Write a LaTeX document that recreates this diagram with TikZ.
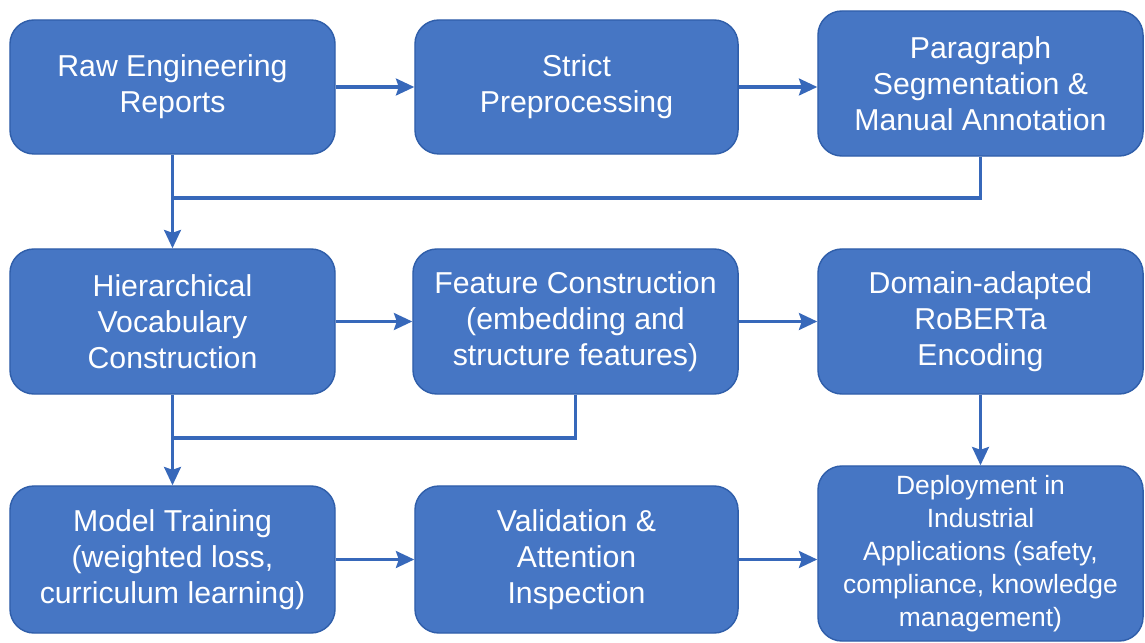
\documentclass[tikz,border=0pt]{standalone}
\usepackage{fontspec}
\setmainfont{Liberation Sans}
\usetikzlibrary{arrows.meta}

\definecolor{boxblue}{RGB}{70,118,196}
\definecolor{edgeblue}{RGB}{47,94,170}
\definecolor{lineblue}{RGB}{55,104,186}

\tikzset{
  stage/.style={draw=edgeblue, line width=1pt, fill=boxblue, rounded corners=0.6cm,
    text=white, align=center, inner sep=0pt, minimum width=8.125cm,
    font=\fontsize{21.5}{25.5}\selectfont},
  flow/.style={draw=lineblue, line width=2.2pt, ->},
  link/.style={draw=lineblue, line width=2.2pt},
}

\begin{document}
\begin{tikzpicture}[x=0.025cm, y=-0.025cm, >={Stealth[length=13pt,width=12pt,inset=2pt]}]
    \fill[white] (0,0) rectangle (1145,643);
    \useasboundingbox (0,0) rectangle (1145,643);

    % first row
    \node[stage, minimum height=3.35cm] (raw) at (172.5,87) {Raw Engineering\\Reports};
    \node[stage, minimum height=3.35cm, minimum width=8.075cm] (prep) at (576.5,87) {Strict\\Preprocessing};
    \node[stage, minimum height=3.625cm] (para) at (980.5,83.5) {Paragraph\\Segmentation \&\\Manual Annotation};

    % second row
    \node[stage, minimum height=3.625cm] (vocab) at (172.5,321.5) {Hierarchical\\Vocabulary\\Construction};
    \node[stage, minimum height=3.625cm] (feat) at (575.5,321.5) {Feature Construction\\(embedding and\\structure features)};
    \node[stage, minimum height=3.625cm] (enc) at (980.5,321.5) {Domain-adapted\\RoBERTa\\Encoding};

    % third row
    \node[stage, minimum height=3.675cm] (train) at (172.5,559.5) {Model Training\\(weighted loss,\\curriculum learning)};
    \node[stage, minimum height=3.675cm, minimum width=8.075cm] (valid) at (576.5,559.5) {Validation \&\\Attention\\Inspection};
    \node[stage, minimum height=4.375cm, font=\fontsize{18.8}{23.4}\selectfont] (deploy) at (980.5,553.5) {Deployment in\\Industrial\\Applications (safety,\\compliance, knowledge\\management)};

    \coordinate (j1) at (173,198);
    \coordinate (j2) at (173,438);

    \draw[flow] (raw.east) -- (prep.west);
    \draw[flow] (prep.east) -- (prep.east -| para.west);
    \draw[flow] (raw.south) -- (vocab.north);
    \draw[link] (para.south) |- (j1);

    \draw[flow] (vocab.east) -- (feat.west);
    \draw[flow] (feat.east) -- (enc.west);
    \draw[flow] (vocab.south) -- (train.north);
    \draw[link] (feat.south) |- (j2);
    \draw[flow] (enc.south) -- (deploy.north);

    \draw[flow] (train.east) -- (valid.west);
    \draw[flow] (valid.east) -- (valid.east -| deploy.west);
\end{tikzpicture}
\end{document}
